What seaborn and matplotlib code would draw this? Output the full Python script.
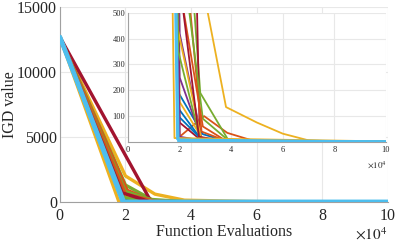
#!/usr/bin/env python3
"""IGD convergence curves with a zoomed inset (MATLAB-like look)."""

import matplotlib
matplotlib.use("Agg")
import matplotlib.pyplot as plt
from matplotlib.ticker import FuncFormatter
import pandas as pd
import seaborn as sns

# MATLAB default colour order
COLORS = ["#0072BD", "#D95319", "#EDB120", "#7E2F8E", "#77AC30", "#4DBEEE", "#A2142F"]

# one entry per run: x = function evaluations, y = IGD value
RUN_COLOR = [
    0, 1, 2, 3, 4, 6,
    0, 1, 2, 3, 4, 6,
    0, 1, 2, 3, 4, 6,
    2, 5, 5,
]
RUN_X = [
    [0, 19000, 29000, 38000, 100000],
    [0, 20000, 29500, 38500, 49000, 100000],
    [0, 20000, 29000, 38000, 50000, 60000, 70000, 80000, 100000],
    [0, 20000, 28500, 38000, 100000],
    [0, 20000, 28000, 39000, 100000],
    [0, 27800, 29000, 100000],
    [0, 19500, 28500, 38000, 100000],
    [0, 20500, 28500, 38000, 100000],
    [0, 20000, 29000, 38000, 100000],
    [0, 20000, 28500, 38000, 100000],
    [0, 20000, 29000, 39000, 100000],
    [0, 20000, 28500, 100000],
    [0, 19500, 29000, 100000],
    [0, 20000, 29000, 38000, 100000],
    [0, 19000, 28500, 38000, 100000],
    [0, 20000, 29000, 100000],
    [0, 19500, 28000, 38000, 100000],
    [0, 19000, 27500, 38000, 100000],
    [0, 18000, 100000],
    [0, 19000, 100000],
    [0, 19500, 100000],
]
RUN_Y = [
    [12700, 200, 30, 3, 2],
    [12700, 20, 100, 35, 3, 2],
    [12700, 2000, 600, 135, 75, 32, 6, 2, 2],
    [12700, 420, 15, 3, 2],
    [12700, 1300, 190, 5, 2],
    [12700, 30, 5, 2],
    [12700, 130, 8, 3, 2],
    [12700, 900, 40, 4, 2],
    [12700, 155, 10, 3, 2],
    [12700, 250, 12, 3, 2],
    [12700, 800, 90, 5, 2],
    [12700, 75, 5, 2],
    [12700, 100, 5, 2],
    [12700, 600, 60, 4, 2],
    [12700, 450, 8, 3, 2],
    [12700, 20, 5, 2],
    [12700, 350, 10, 3, 2],
    [12700, 700, 20, 3, 2],
    [12700, 15, 2],
    [12700, 10, 2],
    [12700, 3, 2],
]

MAIN_YTICKS = [0, 5000, 10000, 15000]
INSET_YTICKS = [100, 200, 300, 400, 500]
XTICKS = [0, 20000, 40000, 60000, 80000, 100000]

rows = []
for i, (xs, ys) in enumerate(zip(RUN_X, RUN_Y)):
    for x, y in zip(xs, ys):
        rows.append({"run": f"r{i:02d}", "evals": x, "igd": y})
df = pd.DataFrame(rows)
palette = {f"r{i:02d}": COLORS[c] for i, c in enumerate(RUN_COLOR)}

sns.set_style("white")
plt.rcParams["font.family"] = ["Liberation Serif", "DejaVu Serif"]
plt.rcParams["mathtext.fontset"] = "stix"

fig = plt.figure(figsize=(3.99, 2.43), dpi=100)
ax = fig.add_axes([0.150, 0.169, 0.822, 0.802])
ins = fig.add_axes([0.321, 0.416, 0.646, 0.531])

fmt = FuncFormatter(lambda v, _: f"{v / 1e4:g}")


def style(a, fontsize, ylim, yticks, xpad):
    a.set_xlim(0, 100000)
    a.set_ylim(*ylim)
    a.set_xticks(XTICKS)
    a.set_yticks(yticks)
    a.xaxis.set_major_formatter(fmt)
    a.grid(True, color="#e8e8e8", linewidth=0.8)
    a.set_axisbelow(True)
    for s in ["top", "right"]:
        a.spines[s].set_visible(False)
    for s in ["left", "bottom"]:
        a.spines[s].set_color("#a0a0a0")
        a.spines[s].set_linewidth(0.8)
    a.tick_params(length=0, labelsize=fontsize, colors="#262626", pad=2)
    a.tick_params(axis="x", pad=xpad)
    a.set_xlabel("")
    a.set_ylabel("")


for a, lw in [(ax, 2.4), (ins, 1.3)]:
    sns.lineplot(data=df, x="evals", y="igd", hue="run", palette=palette,
                 estimator=None, sort=False, linewidth=lw, legend=False, ax=a)
    # cyan baseline drawn thicker on top
    a.lines[-1].set_linewidth(lw * 1.4)
    a.lines[-1].set_zorder(5)

style(ax, 11.5, (0, 15000), MAIN_YTICKS, 4.5)
style(ins, 6, (0, 500), INSET_YTICKS, 3)
ins.set_facecolor("white")

ax.set_xlabel("Function Evaluations", fontsize=11.5, color="#262626", labelpad=0)
ax.set_ylabel("IGD value", fontsize=11.5, color="#262626")
ax.yaxis.set_label_coords(-0.128, 0.5)
fig.text(0.972, 0.0, r"$\times10^4$", ha="right", va="bottom",
         fontsize=11, color="#262626")
fig.text(0.970, 0.300, r"$\times10^4$", ha="right", va="bottom",
         fontsize=6.5, color="#262626")

fig.savefig("out.png", dpi=100)
